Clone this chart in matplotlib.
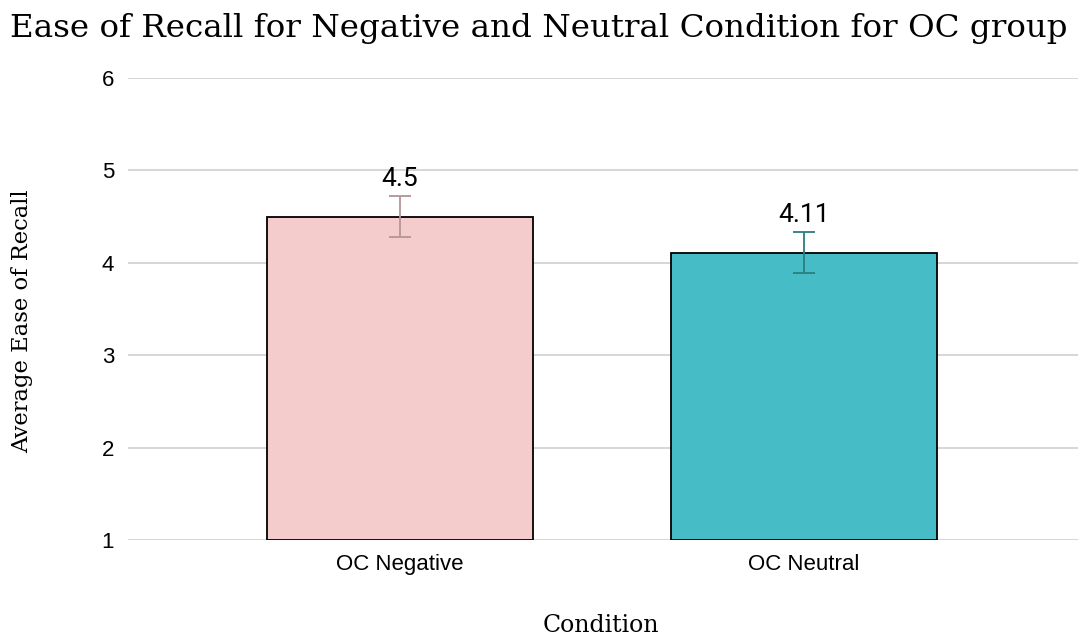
import matplotlib
matplotlib.use("Agg")
import matplotlib.pyplot as plt

categories = ["OC Negative", "OC Neutral"]
values = [4.5, 4.11]
errors = [0.22, 0.22]
bar_colors = ["#f4cccc", "#46bdc6"]
err_colors = ["#b39494", "#2b7d80"]
yticks = [1, 2, 3, 4, 5, 6]

fig = plt.figure(figsize=(10.78, 6.43), dpi=100)
ax = fig.add_axes([128/1078, 1-540/643, 1-128/1078, (540-78)/643])

x = list(range(len(categories)))
ax.bar(x, [v - 1 for v in values], bottom=1, width=0.66, color=bar_colors,
       edgecolor="black", linewidth=1.3, zorder=3)
for xi, v, e, c in zip(x, values, errors, err_colors):
    ax.errorbar(xi, v, yerr=e, ecolor=c, elinewidth=1.3, capsize=8, capthick=1.3,
                fmt="none", zorder=4)
    ax.annotate(f"{v:g}", (xi, v + e), xytext=(0, 4), textcoords="offset points",
                ha="center", va="bottom", fontsize=19, family="Roboto", zorder=5)

ax.set_xlim(-0.673, 1.678)
ax.set_ylim(1, 6)
ax.set_yticks(yticks)
ax.set_xticks(x)
ax.set_xticklabels(categories, family="Liberation Sans", fontsize=16)
for lab in ax.get_yticklabels():
    lab.set_family("Liberation Sans")
    lab.set_fontsize(16)
ax.tick_params(axis="both", length=0, pad=10)
ax.tick_params(axis="x", pad=10)
ax.grid(axis="y", color="#cccccc", linewidth=1.1, zorder=0)
for s in ax.spines.values():
    s.set_visible(False)

fig.text(539/1078, 1-28/643, "Ease of Recall for Negative and Neutral Condition for OC group",
         ha="center", va="center", family="DejaVu Serif", fontsize=23.4)
fig.text(22/1078, 1-321/643, "Average Ease of Recall", rotation=90, ha="center",
         va="center", family="DejaVu Serif", fontsize=16.3)
fig.text(601/1078, 1-626/643, "Condition", ha="center", va="center",
         family="DejaVu Serif", fontsize=17)

fig.savefig("out.png", dpi=100)
